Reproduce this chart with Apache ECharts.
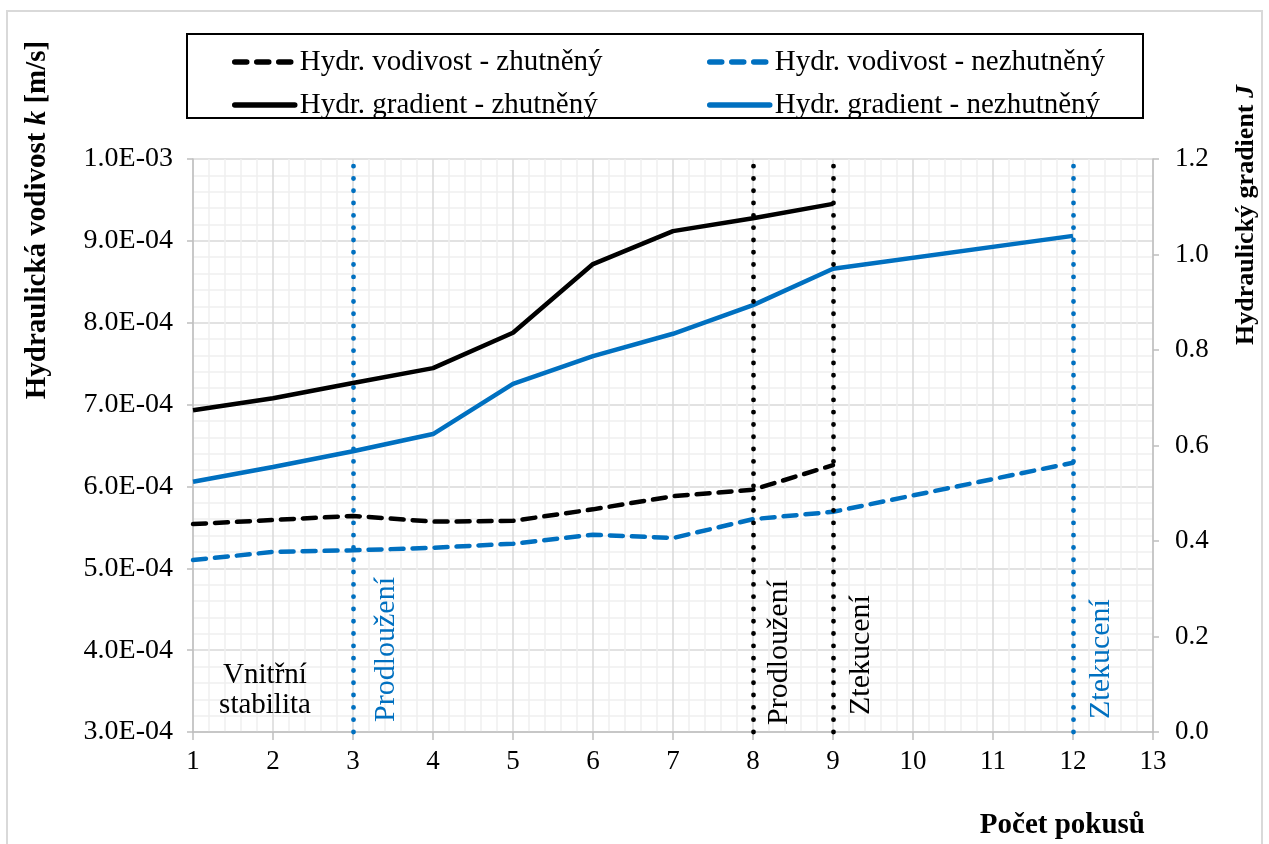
<!DOCTYPE html>
<html>
<head>
<meta charset="utf-8">
<script src="https://cdn.jsdelivr.net/npm/echarts@6/dist/echarts.min.js"></script>
<style>
html, body { margin: 0; background: #fff; }
#chart { width: 1269px; height: 844px; }
</style>
</head>
<body>
<div id="chart"></div>
<script>
// pokusy (x) a hodnoty
var pokusyZhut = [1, 2, 3, 4, 5, 6, 7, 8, 9];
var pokusyNez = [1, 2, 3, 4, 5, 6, 7, 8, 9, 12];
var vodivostZhut = [5.54e-4, 5.59e-4, 5.64e-4, 5.57e-4, 5.58e-4, 5.72e-4, 5.88e-4, 5.96e-4, 6.26e-4];
var vodivostNez = [5.10e-4, 5.20e-4, 5.22e-4, 5.25e-4, 5.30e-4, 5.41e-4, 5.37e-4, 5.60e-4, 5.69e-4, 6.29e-4];
var gradientZhut = [0.674, 0.699, 0.731, 0.762, 0.836, 0.980, 1.049, 1.076, 1.106];
var gradientNez = [0.524, 0.555, 0.588, 0.624, 0.729, 0.787, 0.834, 0.894, 0.970, 1.039];
// hranice stadií (svislé tečkované čáry)
var hraniceZhut = [8, 9];
var hraniceNez = [3, 12];
var popiskyHranic = ['Prodloužení', 'Ztekucení'];

var nazvy = ['Hydr. vodivost - zhutněný', 'Hydr. vodivost - nezhutněný',
             'Hydr. gradient - zhutněný', 'Hydr. gradient - nezhutněný'];

var CERNA = '#000000';
var MODRA = '#0070C0';
var FONT = '"Liberation Serif", "Times New Roman", serif';
var CARKY = [13, 9];

function pary(xs, ys) {
    return xs.map(function (x, i) { return [x, ys[i]]; });
}

function formatExp(v) {
    var s = v.toExponential(1).toUpperCase();
    return s.replace(/E([+-])(\d)$/, function (m, z, d) { return 'E' + z + '0' + d; });
}

function tecky(barva, hodnoty) {
    return {
        silent: true,
        symbol: ['none', 'none'],
        label: { show: false },
        lineStyle: { color: barva, width: 4.8, type: [0.1, 12.2], cap: 'round' },
        data: hodnoty.map(function (x) { return { xAxis: x }; })
    };
}

function polozka(nazev, barva, typ) {
    return {
        name: nazev,
        itemStyle: { opacity: 0 },
        lineStyle: { color: barva, width: 5.5, type: typ, cap: 'round' }
    };
}

var chart = echarts.init(document.getElementById('chart'));

var legendText = { fontFamily: FONT, fontSize: 29, color: '#000', lineHeight: 32 };

chart.setOption({
    animation: false,
    grid: { left: 193, right: 116, top: 159, bottom: 112 },
    legend: [
        {
            left: 227, top: 41, orient: 'vertical', itemGap: 11,
            itemWidth: 60, itemHeight: 14,
            data: [polozka(nazvy[0], CERNA, [12, 10]), polozka(nazvy[2], CERNA, 'solid')],
            textStyle: legendText
        },
        {
            left: 702, top: 41, orient: 'vertical', itemGap: 11,
            itemWidth: 60, itemHeight: 14,
            data: [polozka(nazvy[1], MODRA, [12, 10]), polozka(nazvy[3], MODRA, 'solid')],
            textStyle: legendText
        }
    ],
    xAxis: {
        type: 'value', min: 1, max: 13, interval: 1,
        axisLine: { lineStyle: { color: '#bfbfbf', width: 1.5 } },
        axisTick: { show: true, length: 8, lineStyle: { color: '#bfbfbf', width: 1.5 } },
        axisLabel: { color: '#000', fontFamily: FONT, fontSize: 27, margin: 16 },
        splitLine: { show: true, lineStyle: { color: '#d9d9d9', width: 1.5 } },
        minorTick: { show: false, splitNumber: 5 },
        minorSplitLine: { show: true, lineStyle: { color: '#efefef', width: 1.5 } }
    },
    yAxis: [
        {
            type: 'value', min: 3e-4, max: 1e-3, interval: 1e-4,
            axisLine: { show: true, lineStyle: { color: '#bfbfbf', width: 1.5 } },
            axisTick: { show: true, length: 6, lineStyle: { color: '#bfbfbf', width: 1.5 } },
            axisLabel: { color: '#000', fontFamily: FONT, fontSize: 28, margin: 20, formatter: formatExp },
            splitLine: { show: true, lineStyle: { color: '#d9d9d9', width: 1.5 } },
            minorTick: { show: false, splitNumber: 5 },
            minorSplitLine: { show: true, lineStyle: { color: '#efefef', width: 1.5 } }
        },
        {
            type: 'value', min: 0, max: 1.2, interval: 0.2, position: 'right',
            axisLine: { show: true, lineStyle: { color: '#bfbfbf', width: 1.5 } },
            axisTick: { show: true, length: 6, lineStyle: { color: '#bfbfbf', width: 1.5 } },
            axisLabel: {
                color: '#000', fontFamily: FONT, fontSize: 27, margin: 22,
                formatter: function (v) { return v.toFixed(1); }
            },
            splitLine: { show: false }
        }
    ],
    series: [
        {
            name: nazvy[0], type: 'line', yAxisIndex: 0, symbol: 'none', z: 3,
            data: pary(pokusyZhut, vodivostZhut),
            lineStyle: { color: CERNA, width: 4.5, type: CARKY, cap: 'round' },
            itemStyle: { color: CERNA }
        },
        {
            name: nazvy[1], type: 'line', yAxisIndex: 0, symbol: 'none', z: 3,
            data: pary(pokusyNez, vodivostNez),
            lineStyle: { color: MODRA, width: 4.5, type: CARKY, cap: 'round' },
            itemStyle: { color: MODRA }
        },
        {
            name: nazvy[2], type: 'line', yAxisIndex: 1, symbol: 'none', z: 3,
            data: pary(pokusyZhut, gradientZhut),
            lineStyle: { color: CERNA, width: 4.5 },
            itemStyle: { color: CERNA },
            markLine: tecky(CERNA, hraniceZhut)
        },
        {
            name: nazvy[3], type: 'line', yAxisIndex: 1, symbol: 'none', z: 3,
            data: pary(pokusyNez, gradientNez),
            lineStyle: { color: MODRA, width: 4.5 },
            itemStyle: { color: MODRA },
            markLine: tecky(MODRA, hraniceNez)
        }
    ]
});

// popisky: svislé texty u hranic, názvy os, rámečky
var dole = chart.convertToPixel({ gridIndex: 0 }, [1, 3e-4])[1];
function svislyPopis(x, text, barva, dx, dy) {
    var px = chart.convertToPixel({ xAxisIndex: 0 }, x);
    return {
        type: 'text', x: px + dx, y: dole - dy, rotation: Math.PI / 2,
        style: { text: text, fill: barva, font: '30px ' + FONT, align: 'left', verticalAlign: 'middle' }
    };
}

chart.setOption({
    graphic: [
        { type: 'rect', shape: { x: 7, y: 11, width: 1255, height: 860 },
          style: { fill: null, stroke: '#d9d9d9', lineWidth: 2 }, z: -1 },
        { type: 'rect', shape: { x: 187, y: 34, width: 956, height: 84 },
          style: { fill: null, stroke: '#000', lineWidth: 2 } },
        svislyPopis(hraniceNez[0], popiskyHranic[0], MODRA, 33, 10),
        svislyPopis(hraniceZhut[0], popiskyHranic[0], CERNA, 26, 7),
        svislyPopis(hraniceZhut[1], popiskyHranic[1], CERNA, 28, 17),
        svislyPopis(hraniceNez[1], popiskyHranic[1], MODRA, 28, 13),
        { type: 'text', x: 265, y: 690,
          style: { text: 'Vnitřní\nstabilita', fill: '#000', font: '29px ' + FONT,
                   align: 'center', verticalAlign: 'middle', lineHeight: 30 } },
        { type: 'text', x: 38, y: 220, rotation: Math.PI / 2,
          style: {
              text: '{a|Hydraulická vodivost }{b|k}{a| [m/s]}',
              align: 'center', verticalAlign: 'middle',
              rich: {
                  a: { fontFamily: FONT, fontSize: 29, fontWeight: 'bold', fill: '#000' },
                  b: { fontFamily: FONT, fontSize: 29, fontWeight: 'bold', fontStyle: 'italic', fill: '#000' }
              }
          } },
        { type: 'text', x: 1246, y: 215, rotation: Math.PI / 2,
          style: {
              text: '{a|Hydraulický gradient }{b|J}',
              align: 'center', verticalAlign: 'middle',
              rich: {
                  a: { fontFamily: FONT, fontSize: 26, fontWeight: 'bold', fill: '#000' },
                  b: { fontFamily: FONT, fontSize: 26, fontWeight: 'bold', fontStyle: 'italic', fill: '#000' }
              }
          } },
        { type: 'text', x: 1145, y: 826,
          style: { text: 'Počet pokusů', fill: '#000', font: 'bold 29px ' + FONT,
                   align: 'right', verticalAlign: 'middle' } }
    ]
});
</script>
</body>
</html>
